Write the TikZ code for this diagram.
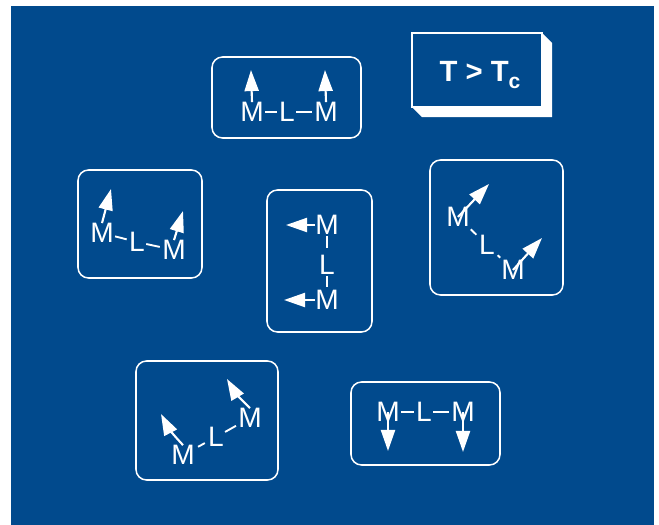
\documentclass[tikz,border=0pt]{standalone}
\usepackage{fontspec}
\setmainfont{Liberation Sans}
\usepackage{xcolor}
\definecolor{slideblue}{RGB}{1,74,141}
\usepackage{tikz}
\usetikzlibrary{arrows.meta}

\begin{document}
\begin{tikzpicture}[x=0.03cm, y=-0.03cm,
  panel/.style={draw=white, line width=1.3pt, rounded corners=9pt},
  atom/.style={text=white, inner sep=0pt, font=\fontsize{24}{26}\selectfont},
  bond/.style={draw=white, line width=1.6pt, shorten <=1pt, shorten >=2pt},
  spin/.style={draw=white, line width=1.8pt, -{Triangle[length=18pt 0, width=12pt 0]}}]

\useasboundingbox (0,0) rectangle (659,525);
\fill[slideblue] (11,6) rectangle (654,525);

% temperature label
\draw[white, line width=1.3pt] (412,33) rectangle (542,107);
\fill[white] (542,33) -- (552,43) -- (552,117) -- (422,117) -- (412,107) -- (542,107) -- cycle;
\node[text=white, inner sep=0pt, anchor=base, font=\fontsize{25}{28}\selectfont\bfseries] (tc) at (480,81)
  {T > T\raisebox{-6pt}{\fontsize{18}{20}\selectfont c}};

% panels
\draw[panel] (212,57) rectangle (361,138);
\draw[panel] (78,170) rectangle (202,278);
\draw[panel] (267,190) rectangle (372,332);
\draw[panel] (430,160) rectangle (563,295);
\draw[panel] (136,361) rectangle (278,480);
\draw[panel] (351,382) rectangle (500,465);

% top
\node[atom] (a1) at (252,112) {M};
\node[atom] (a2) at (287,112) {L};
\node[atom] (a3) at (326,112) {M};
\draw[bond] (a1) -- (a2);
\draw[bond] (a2) -- (a3);
\coordinate (a1s) at (251,70);
\coordinate (a3s) at (325,70);
\draw[spin] (a1.north) -- (a1s);
\draw[spin] (a3.north) -- (a3s);

% left
\node[atom] (b1) at (102,233) {M};
\node[atom] (b2) at (137,242) {L};
\node[atom] (b3) at (174,250) {M};
\draw[bond] (b1) -- (b2);
\draw[bond] (b2) -- (b3);
\coordinate (b1s) at (111,189);
\coordinate (b3s) at (183,211);
\draw[spin] (b1.north) -- (b1s);
\draw[spin] (b3.north) -- (b3s);

% centre
\node[atom] (c1) at (327,225) {M};
\node[atom] (c2) at (327,265) {L};
\node[atom] (c3) at (327,300) {M};
\draw[bond, shorten >=6pt] (c1) -- (c2);
\draw[bond, shorten >=3pt] (c2) -- (c3);
\coordinate (c1s) at (286,225);
\coordinate (c3s) at (284,300);
\draw[spin] (c1.west) -- (c1s);
\draw[spin] (c3.west) -- (c3s);

% right
\node[atom] (d1) at (458,217) {M};
\node[atom] (d2) at (487,245) {L};
\node[atom] (d3) at (513,270) {M};
\draw[bond, shorten <=3pt, shorten >=3pt] (d1) -- (d2);
\draw[bond, shorten <=3pt, shorten >=3pt] (d2) -- (d3);
\coordinate (d1s) at (489,184);
\coordinate (d3s) at (542,238);
\draw[spin] (d1.center) -- (d1s);
\draw[spin] (d3.center) -- (d3s);

% bottom left
\node[atom] (e1) at (183,455) {M};
\node[atom] (e2) at (216,437) {L};
\node[atom] (e3) at (250,418) {M};
\draw[bond, shorten <=3pt, shorten >=3pt] (e1) -- (e2);
\draw[bond] (e2) -- (e3);
\coordinate (e1s) at (161,414);
\coordinate (e3s) at (227,379);
\draw[spin] (e1.north) to[bend left=8] (e1s);
\draw[spin] (e3.north) to[bend left=8] (e3s);

% bottom right
\node[atom] (f1) at (388,412) {M};
\node[atom] (f2) at (424,412) {L};
\node[atom] (f3) at (463,412) {M};
\draw[bond] (f1) -- (f2);
\draw[bond] (f2) -- (f3);
\coordinate (f1s) at (388,451);
\coordinate (f3s) at (463,452);
\draw[spin] (f1.center) -- (f1s);
\draw[spin] (f3.center) -- (f3s);

\end{tikzpicture}
\end{document}
